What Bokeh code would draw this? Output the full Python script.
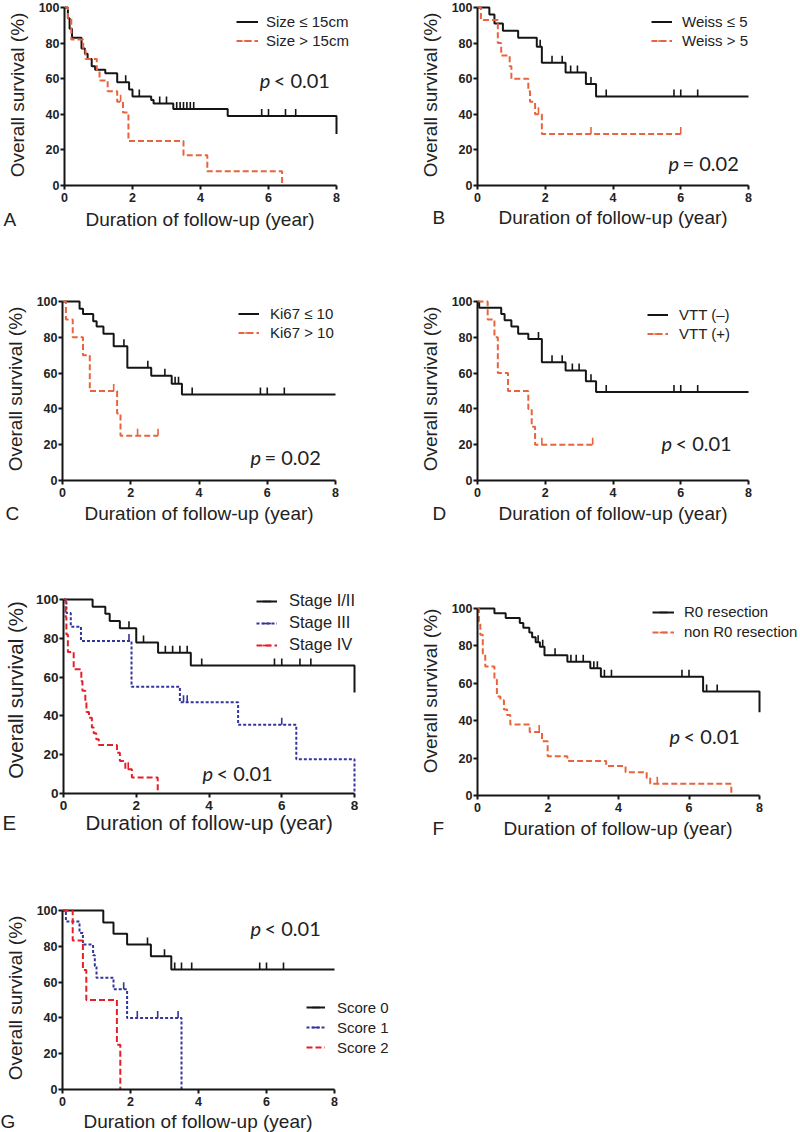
import math
from bokeh.plotting import figure
from bokeh.models import Range1d, Label, Legend, LegendItem, FixedTicker, Title
from bokeh.layouts import column, row
from bokeh.embed import file_html
from bokeh.resources import INLINE

# ---------------- data (years, % survival, censor times) ----------------
A1_T = [0, 0.1, 0.15, 0.22, 0.5, 0.6, 0.68, 0.8, 0.9, 1.2, 1.55, 1.9, 2.0, 2.55, 2.62, 3.2, 4.8, 8.0]
A1_S = [100, 94, 88, 83, 77, 74, 71, 67, 65, 63, 58, 54, 50, 48, 46, 43, 39, 29]
A1_C = [1.8, 2.2, 2.8, 3.0, 3.3, 3.4, 3.5, 3.6, 3.7, 3.8, 5.8, 6.0, 6.5, 6.8]
A2_T = [0, 0.1, 0.2, 0.55, 0.62, 0.95, 1.03, 1.27, 1.55, 1.72, 1.88, 3.5, 4.2, 6.4]
A2_S = [100, 94, 82, 76, 71, 65, 59, 53, 47, 41, 25, 17, 8, 0]
A2_C = [1.65]

B1_T = [0, 0.35, 0.5, 0.75, 1.2, 1.75, 1.9, 2.6, 3.2, 3.5, 8.0]
B1_S = [100, 96, 91, 87, 83, 78, 69, 63.5, 57, 50, 50]
B1_C = [1.85, 2.2, 2.5, 2.75, 2.95, 3.35, 3.8, 5.8, 6.0, 6.5]
B2_T = [0, 0.1, 0.6, 0.7, 0.95, 1.0, 1.5, 1.55, 1.7, 1.9, 6.0]
B2_S = [100, 93, 80, 73, 67, 60, 53, 47, 40, 29, 29]
B2_C = [1.8, 3.35, 6.0]

C1_T = [0, 0.5, 0.6, 0.9, 1.0, 1.2, 1.5, 1.9, 2.6, 3.2, 3.5, 8.0]
C1_S = [100, 96, 93, 89, 86, 82, 75, 63, 58.5, 54, 48, 48]
C1_C = [1.8, 2.5, 3.0, 3.3, 3.4, 3.8, 5.8, 6.0, 6.5]
C2_T = [0, 0.1, 0.3, 0.6, 0.8, 1.6, 1.7, 2.8]
C2_S = [100, 90, 80, 70, 50, 37.5, 25, 25]
C2_C = [1.5, 2.2, 2.8]

D1_T = [0, 0.05, 0.7, 0.8, 1.0, 1.2, 1.5, 1.9, 2.6, 3.2, 3.5, 8.0]
D1_S = [100, 96.5, 93, 89.5, 86, 82, 79, 66, 61.5, 55.5, 49.5, 49.5]
D1_C = [1.8, 2.2, 2.5, 2.8, 3.0, 3.35, 3.8, 5.8, 6.0, 6.5]
D2_T = [0, 0.3, 0.5, 0.6, 0.9, 1.5, 1.6, 1.7, 3.4]
D2_S = [100, 90, 80, 60, 50, 40, 30, 20, 20]
D2_C = [1.9, 3.4]

E1_T = [0, 0.8, 1.15, 1.27, 1.55, 2.0, 2.6, 3.5, 8.0]
E1_S = [100, 96.3, 92.6, 88.9, 85.2, 77.8, 72.6, 66, 52]
E1_C = [1.8, 2.2, 2.8, 3.0, 3.2, 3.4, 3.8, 5.8, 6.0, 6.5, 6.8]
E2_T = [0, 0.08, 0.2, 0.48, 1.87, 3.2, 4.8, 6.4, 8.0]
E2_S = [100, 93, 86, 78.6, 55, 47, 35.4, 17.7, 0]
E2_C = [1.8, 3.3, 3.4, 6.0]
E3_T = [0, 0.06, 0.08, 0.12, 0.28, 0.49, 0.52, 0.6, 0.63, 0.7, 0.78, 0.83, 0.9, 0.97, 1.47, 1.55, 1.7, 1.88, 2.59]
E3_S = [100, 91, 82, 73, 64, 58, 53, 47, 42, 39, 34, 31, 28, 25, 21, 16.7, 12.5, 8.3, 0]
E3_C = [1.78]

F1_T = [0, 0.48, 0.8, 1.2, 1.3, 1.47, 1.55, 1.65, 1.77, 1.9, 2.55, 3.2, 3.5, 6.4, 8.0]
F1_S = [100, 97.4, 94.9, 92.3, 89.7, 87.2, 84.6, 82, 79.5, 75, 71.5, 68, 63.5, 55.6, 44.5]
F1_C = [1.72, 1.85, 2.2, 2.65, 2.8, 3.0, 3.3, 3.4, 3.6, 3.8, 5.8, 6.0, 6.5, 6.8]
F2_T = [0, 0.04, 0.08, 0.15, 0.22, 0.48, 0.55, 0.65, 0.75, 0.84, 0.93, 1.48, 1.83, 1.99, 2.55, 3.65, 4.2, 4.8, 4.9, 7.2]
F2_S = [100, 93, 86, 76, 69, 62, 53, 51, 46, 43, 38, 34, 29, 21, 18.5, 15.8, 12.5, 9.2, 6.3, 0]
F2_C = [1.75, 5.1]

G1_T = [0, 1.2, 1.5, 1.9, 2.6, 3.2, 8.0]
G1_S = [100, 93.3, 87, 81, 74.5, 67, 67]
G1_C = [2.5, 3.0, 3.3, 3.5, 3.8, 5.8, 6.0, 6.5]
G2_T = [0, 0.1, 0.5, 0.6, 0.9, 0.95, 1.0, 1.5, 1.9, 3.5]
G2_S = [100, 93.8, 87.5, 81, 75, 69, 62.5, 56, 40, 0]
G2_C = [1.8, 2.2, 2.8, 3.4]
G3_T = [0, 0.3, 0.6, 0.7, 1.6, 1.7]
G3_S = [100, 83.3, 66.7, 50, 25, 0]
G3_C = []

X_TICKS = [0, 2, 4, 6, 8]
Y_TICKS = [0, 20, 40, 60, 80, 100]
X_TITLE = "Duration of follow-up (year)"
Y_TITLE = "Overall survival (%)"

BLACK = "#151515"
ORANGE = "#E8643E"
RED = "#E3202A"
BLUE = "#34349C"
TXT = "#222222"
FONT = "Liberation Sans"

# Arial / Liberation Sans advance widths (per 1000 em) for centring the x title
ARIAL_W = {'D': 722, 'u': 556, 'r': 333, 'a': 556, 't': 278, 'i': 222, 'o': 556,
           'n': 556, ' ': 278, 'f': 278, 'l': 222, 'w': 722, '-': 333, 'p': 556,
           '(': 333, 'y': 500, 'e': 556, ')': 333}


def text_width(s, fs):
    return sum(ARIAL_W.get(ch, 556) for ch in s) * fs / 1000.0


def step_path(t, s):
    xs, ys = [t[0]], [s[0]]
    for i in range(1, len(t)):
        xs += [t[i], t[i]]
        ys += [s[i - 1], s[i]]
    return xs, ys


def surv_at(t, s, c):
    out = []
    for ci in c:
        k = 0
        for i, ti in enumerate(t):
            if ti <= ci:
                k = i
        out.append(s[k])
    return out


def panel(fx, fy, FW, FH, x0, x8, y100, y0, series, ptext, pxy, letter, lx_page,
          leg, ftop, axis_fs=19, tick_fs=12.5, leg_fs=15, title_d=37, ylab_standoff=8):
    W, H = x8 - x0, y0 - y100
    lx, row1, pitch, standoff, gw = leg
    n = len(series)
    leg_top = y100 + row1 - pitch / 2
    left = int(x0 - fx)
    fw = int(fx + FW - x0)
    top = int(ftop - fy)
    fh = int(y0 - ftop)
    bottom = int(FH - top - fh)
    p = figure(frame_width=fw, frame_height=fh,
               min_border_left=left, min_border_right=0,
               min_border_top=top, min_border_bottom=bottom,
               x_range=Range1d(0, 8 * fw / W), y_range=Range1d(0, 100 * fh / H),
               toolbar_location=None, output_backend="svg",
               outline_line_color=None, background_fill_color="white")
    p.xgrid.visible = False
    p.ygrid.visible = False
    p.xaxis.ticker = FixedTicker(ticks=X_TICKS)
    p.yaxis.ticker = FixedTicker(ticks=Y_TICKS)
    p.xaxis.bounds = (0, 8)
    p.yaxis.bounds = (0, 100)
    p.yaxis.axis_label = Y_TITLE
    for ax in (p.xaxis, p.yaxis):
        ax.axis_line_width = 2
        ax.axis_line_color = BLACK
        ax.major_tick_line_width = 2
        ax.major_tick_line_color = BLACK
        ax.major_tick_in = 0
        ax.major_tick_out = 4
        ax.minor_tick_line_color = None
        ax.major_label_text_font = FONT
        ax.major_label_text_font_style = "bold"
        ax.major_label_text_font_size = f"{tick_fs}px"
        ax.major_label_text_color = TXT
        ax.axis_label_text_font = FONT
        ax.axis_label_text_font_style = "normal"
        ax.axis_label_text_font_size = f"{axis_fs}px"
        ax.axis_label_text_color = TXT
    p.yaxis.axis_label_standoff = ylab_standoff
    p.xaxis.major_label_standoff = 3
    p.yaxis.major_label_standoff = 1

    off = 3.5 * 100 / H
    items = []
    for label, t, s, c, color, dash in series:
        xs, ys = step_path(t, s)
        lr = p.line(xs, ys, line_color=color, line_width=2, line_dash=dash)
        rends = [lr]
        if c:
            cy = [v + off for v in surv_at(t, s, c)]
            sr = p.scatter(c, cy, marker="dash", angle=math.pi / 2, size=7,
                           line_color=color, line_width=1.6)
            rends.append(sr)
        items.append(LegendItem(label=label, renderers=rends))

    ly = float(y0 - leg_top - n * pitch)
    lg = Legend(items=items, location=(lx, ly), padding=0, margin=0, spacing=0,
                glyph_width=gw, glyph_height=int(pitch), label_height=int(pitch),
                label_standoff=standoff, border_line_alpha=0, background_fill_alpha=0,
                label_text_font=FONT, label_text_font_size=f"{leg_fs}px",
                label_text_color=TXT)
    p.add_layout(lg, "center")

    px, py = pxy
    p.add_layout(Label(x=px, y=py, text="p", text_font="Lato", text_font_style="italic",
                       text_font_size="20px", text_baseline="middle", text_color=TXT))
    p.add_layout(Label(x=px, y=py, x_offset=14, text=ptext, text_font="Lato",
                       text_font_size="20px", text_baseline="middle", text_color=TXT))

    # x-axis title (centred on the 0..8 span) and the panel letter, as titles below
    a0 = 4 + 3 + tick_fs * 1.15
    h = axis_fs * 1.15
    s1 = int(round(2 * (title_d - h / 2 - a0)))
    s2 = int(round(2 * (title_d - h / 2 - (a0 + 2 + h + s1))))
    xt_off = int(round((x8 - x0) / 2 - text_width(X_TITLE, axis_fs) / 2))
    p.add_layout(Title(text=X_TITLE, align="left", offset=xt_off,
                       vertical_align="top", standoff=s1,
                       text_font=FONT, text_font_style="normal",
                       text_font_size=f"{axis_fs}px", text_color=TXT), "below")
    p.add_layout(Title(text=letter, align="left", offset=int(lx_page - x0),
                       vertical_align="top", standoff=s2,
                       text_font=FONT, text_font_style="normal",
                       text_font_size=f"{axis_fs}px", text_color=TXT), "below")
    return p


pa = panel(0, 0, 400, 280, 64, 336, 7, 185,
           [("Size \u2264 15cm", A1_T, A1_S, A1_C, BLACK, "solid"),
            ("Size > 15cm", A2_T, A2_S, A2_C, ORANGE, "6 3")],
           "< 0.01", (5.74, 59.2), "A", 3, (172, 14, 19, 8, 22), ftop=4)
pb = panel(400, 0, 400, 280, 477, 748, 7, 185,
           [("Weiss \u2264 5", B1_T, B1_S, B1_C, BLACK, "solid"),
            ("Weiss > 5", B2_T, B2_S, B2_C, ORANGE, "6 3")],
           "= 0.02", (5.64, 12.8), "B", 432, (174, 14, 19, 10, 21), ftop=4, title_d=35)
pc = panel(0, 280, 400, 280, 62, 335, 301, 480,
           [("Ki67 \u2264 10", C1_T, C1_S, C1_C, BLACK, "solid"),
            ("Ki67 > 10", C2_T, C2_S, C2_C, ORANGE, "6 3")],
           "= 0.02", (5.51, 13.4), "C", 5, (176, 12.6, 19, 11, 21), ftop=297, title_d=36)
pd_ = panel(400, 280, 400, 280, 477, 748, 301, 480,
            [("VTT (\u2013)", D1_T, D1_S, D1_C, BLACK, "solid"),
             ("VTT (+)", D2_T, D2_S, D2_C, ORANGE, "6 3")],
            "< 0.01", (5.43, 21.2), "D", 432, (170, 13, 19, 11, 21), ftop=297, title_d=36)
pe = panel(0, 560, 400, 280, 63, 354, 599, 793,
           [("Stage I/II", E1_T, E1_S, E1_C, BLACK, "solid"),
            ("Stage III", E2_T, E2_S, E2_C, BLUE, "3 2"),
            ("Stage IV", E3_T, E3_S, E3_C, RED, "6 3")],
           "< 0.01", (3.82, 10.8), "E", 2, (193, 1.7, 22, 12, 21), ftop=586,
           axis_fs=20.5, tick_fs=13.5, leg_fs=16.5, title_d=33, ylab_standoff=6)
pf = panel(400, 560, 400, 280, 477, 759, 608, 795,
           [("R0 resection", F1_T, F1_S, F1_C, BLACK, "solid"),
            ("non R0 resection", F2_T, F2_S, F2_C, ORANGE, "6 3")],
           "< 0.01", (5.45, 31.6), "F", 432, (175, 3.7, 20, 10, 22), ftop=586,
           leg_fs=15, title_d=36)
pg = panel(0, 840, 400, 292, 62, 334, 906, 1085,
           [("Score 0", G1_T, G1_S, G1_C, BLACK, "solid"),
            ("Score 1", G2_T, G2_S, G2_C, BLUE, "3 2"),
            ("Score 2", G3_T, G3_S, G3_C, RED, "6 3")],
           "< 0.01", (5.53, 90.5), "G", 0, (244, 97.3, 20, 12, 19), ftop=902,
           leg_fs=15, title_d=35)

layout = column(row(pa, pb), row(pc, pd_), row(pe, pf), row(pg))
open("out.html", "w").write(file_html(layout, INLINE))
